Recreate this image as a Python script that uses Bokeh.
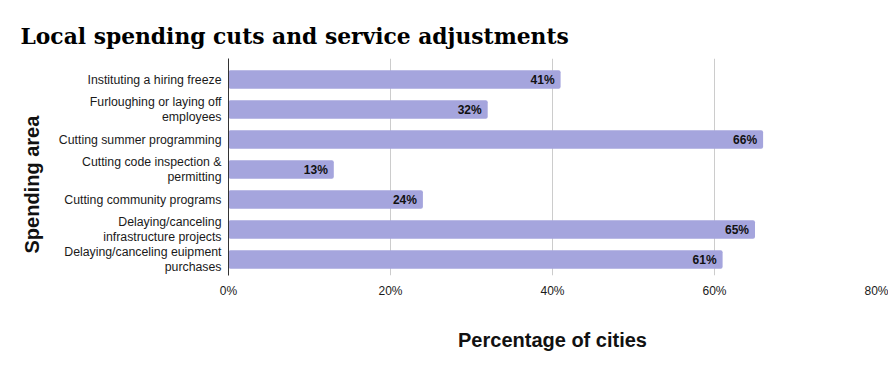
from bokeh.plotting import figure
from bokeh.models import Range1d, FixedTicker, PrintfTickFormatter, Title, ColumnDataSource
from bokeh.embed import file_html
from bokeh.resources import INLINE

categories = [
    "Instituting a hiring freeze",
    "Furloughing or laying off\nemployees",
    "Cutting summer programming",
    "Cutting code inspection &\npermitting",
    "Cutting community programs",
    "Delaying/canceling\ninfrastructure projects",
    "Delaying/canceling euipment\npurchases",
]
values = [41, 32, 66, 13, 24, 65, 61]
x_ticks = [0, 20, 40, 60, 80]

positions = list(range(len(categories)))
labels = [f"{v}%" for v in values]
src = ColumnDataSource(dict(y=positions, v=values, lab=labels))

p = figure(width=888, height=363, output_backend="svg", toolbar_location=None,
           x_range=Range1d(0, 80), y_range=Range1d(6.533, -0.7),
           min_border_left=228, min_border_right=12, min_border_top=58, min_border_bottom=88)

p.title.text = "Local spending cuts and service adjustments"
p.title.text_font = "DejaVu Serif"
p.title.text_font_size = "21.8px"
p.title.text_font_style = "bold"
p.title.text_color = "#000000"
p.title.offset = -208
p.title.standoff = 20

p.hbar(y="y", right="v", left=0, height=0.62, source=src, fill_color="#a5a5dd",
       line_color=None, border_radius=2)
p.text(x="v", y="y", text="lab", source=src, x_offset=-6, text_align="right",
       text_baseline="middle", text_font_size="12px", text_font_style="bold",
       text_color="#111111", text_font={"value": "Liberation Sans"})

p.outline_line_color = None
p.ygrid.visible = False
p.xgrid.grid_line_color = "#cccccc"
p.xaxis.ticker = FixedTicker(ticks=x_ticks)
p.xaxis.formatter = PrintfTickFormatter(format="%d%%")
p.xaxis.axis_line_color = None
p.xaxis.major_tick_line_color = None
p.xaxis.minor_tick_line_color = None
p.xaxis.major_tick_out = 0
p.xaxis.minor_tick_out = 0
p.xaxis.major_label_standoff = 8
p.xaxis.major_label_text_font = "Liberation Sans"
p.xaxis.major_label_text_font_size = "12px"
p.xaxis.major_label_text_color = "#1a1a1a"
p.xaxis.axis_label = "Percentage of cities"
p.xaxis.axis_label_text_font = "Liberation Sans"
p.xaxis.axis_label_text_font_size = "20px"
p.xaxis.axis_label_text_font_style = "bold"
p.xaxis.axis_label_text_color = "#111111"
p.xaxis.axis_label_standoff = 28

p.yaxis.ticker = FixedTicker(ticks=positions)
p.yaxis.major_label_overrides = {i: c for i, c in zip(positions, categories)}
p.yaxis.axis_line_color = "#333333"
p.yaxis.major_tick_line_color = None
p.yaxis.minor_tick_line_color = None
p.yaxis.major_tick_out = 0
p.yaxis.minor_tick_out = 0
p.yaxis.major_label_standoff = 7
p.yaxis.major_label_text_font = "Liberation Sans"
p.yaxis.major_label_text_font_size = "12.3px"
p.yaxis.major_label_text_line_height = 1.1
p.yaxis.major_label_text_color = "#1a1a1a"

spacer = Title(text=" ", text_font_size="5.5px", standoff=0)
p.add_layout(spacer, "left")
ytitle = Title(text="Spending area", align="left", offset=22,
               text_font="Liberation Sans", text_font_size="20px",
               text_font_style="bold", text_color="#111111")
p.add_layout(ytitle, "left")

open("out.html", "w").write(file_html(p, INLINE))
